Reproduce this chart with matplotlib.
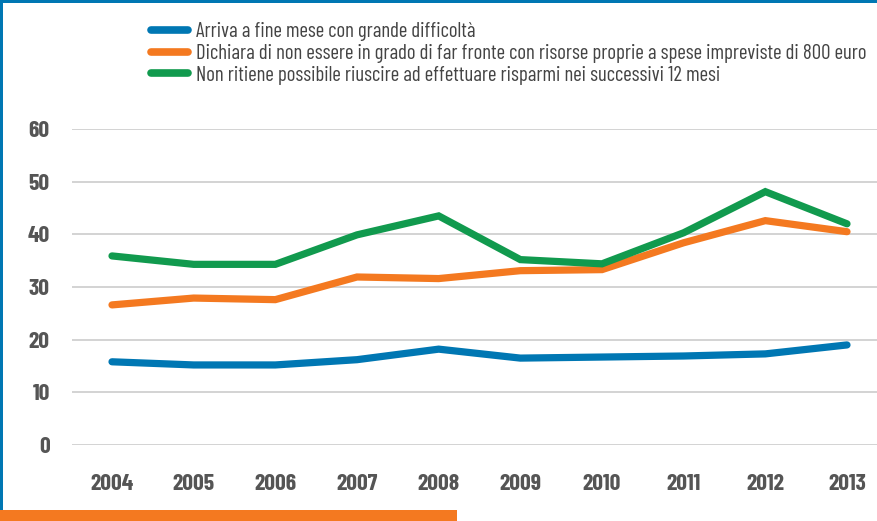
import matplotlib
matplotlib.use("Agg")
import matplotlib.pyplot as plt
from matplotlib.patches import Rectangle

# dati (%)
anni = [2004, 2005, 2006, 2007, 2008, 2009, 2010, 2011, 2012, 2013]
difficolta = [15.8, 15.2, 15.2, 16.2, 18.2, 16.5, 16.7, 16.9, 17.3, 19.0]
spese_800 = [26.6, 27.9, 27.6, 31.9, 31.6, 33.1, 33.3, 38.4, 42.6, 40.5]
risparmi = [35.9, 34.3, 34.3, 39.9, 43.5, 35.2, 34.4, 40.3, 48.1, 42.0]

etichette = [
    "Arriva a fine mese con grande difficoltà",
    "Dichiara di non essere in grado di far fronte con risorse proprie a spese impreviste di 800 euro",
    "Non ritiene possibile riuscire ad effettuare risparmi nei successivi 12 mesi",
]
colori = ["#0077B3", "#F47920", "#119A4E"]

FONT = ["Barlow Condensed", "DejaVu Sans"]

fig = plt.figure(figsize=(8.78, 5.21), dpi=100)
ax = fig.add_axes([72 / 878, 76 / 521, 1 - 72 / 878, 316 / 521])

for serie, col, lab in zip([difficolta, spese_800, risparmi], colori, etichette):
    ax.plot(anni, serie, color=col, lw=5.2, solid_capstyle="round",
            solid_joinstyle="miter", label=lab)

ax.set_xlim(2004 - 40 / 81.67, 2013 + 31 / 81.67)
ax.set_ylim(0, 60)
ax.set_yticks(range(0, 61, 10))
ax.set_xticks(anni)
ax.grid(axis="y", color="#cccccc", lw=1.2)
ax.set_axisbelow(True)
for s in ax.spines.values():
    s.set_visible(False)
ax.tick_params(length=0)
ax.tick_params(axis="y", pad=16)
ax.tick_params(axis="x", pad=21)
for t in ax.get_xticklabels() + ax.get_yticklabels():
    t.set_fontfamily(FONT)
    t.set_fontweight("bold")
    t.set_fontsize(17)
    t.set_color("#555555")

leg = fig.legend(loc="upper left", bbox_to_anchor=(145 / 878, 1 - 16 / 521),
                 frameon=False, handlelength=1.75, handletextpad=0.4,
                 labelspacing=0.13, borderaxespad=0, borderpad=0.3,
                 prop={"family": FONT, "size": 15})
for t in leg.get_texts():
    t.set_color("#444444")
for h in leg.get_lines():
    h.set_linewidth(5.5)

# cornice blu e riquadro arancione in basso
fig.add_artist(Rectangle((0, 1 - 3 / 521), 1, 3 / 521, transform=fig.transFigure,
                         color="#0077B3", lw=0))
fig.add_artist(Rectangle((0, 0), 3 / 878, 1, transform=fig.transFigure,
                         color="#0077B3", lw=0))
fig.add_artist(Rectangle((0, 0), 457 / 878, 11 / 521, transform=fig.transFigure,
                         color="#F47920", lw=0))

fig.savefig("out.png", dpi=100)
